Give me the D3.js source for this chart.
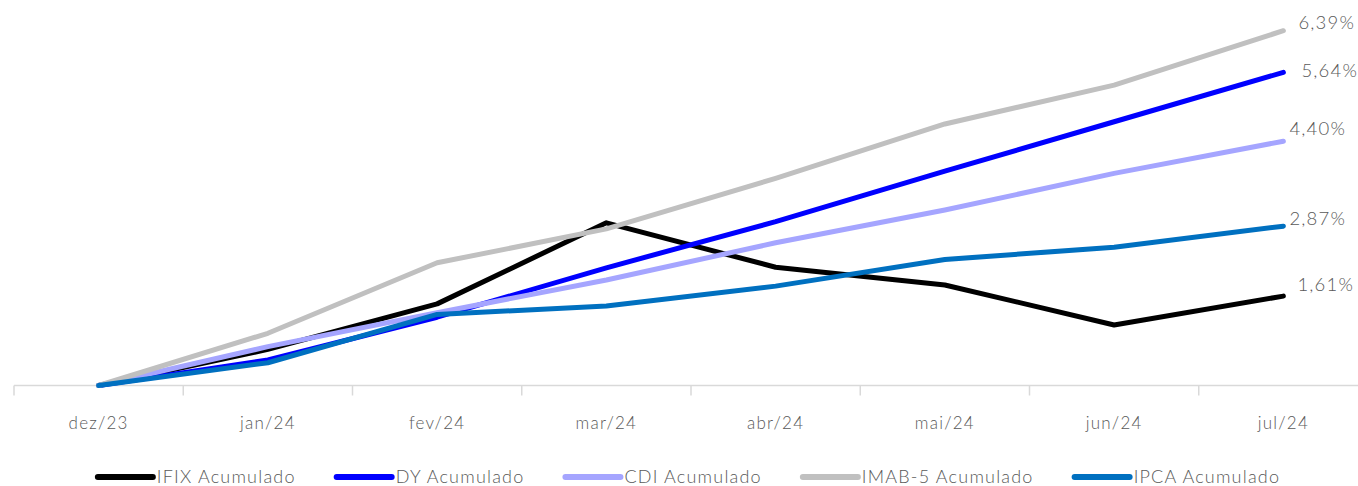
<!DOCTYPE html>
<html>
<head>
<meta charset="utf-8">
<script src="https://cdn.jsdelivr.net/npm/d3@7"></script>
<style>
  html, body { margin: 0; padding: 0; background: #fff; }
  svg { display: block; }
  text { font-family: "Lato", "Open Sans", sans-serif; font-weight: 300; fill: #595959; letter-spacing: 1.2px; }
</style>
</head>
<body>
<svg id="chart" width="1358" height="486"></svg>
<script>
const categories = ["dez/23", "jan/24", "fev/24", "mar/24", "abr/24", "mai/24", "jun/24", "jul/24"];
const seriesNames = ["IFIX Acumulado", "DY Acumulado", "CDI Acumulado", "IMAB-5 Acumulado", "IPCA Acumulado"];
const ifix  = [0, 0.65, 1.47, 2.93, 2.13, 1.81, 1.09, 1.61];
const dy    = [0, 0.46, 1.23, 2.12, 2.95, 3.86, 4.75, 5.64];
const cdi   = [0, 0.70, 1.31, 1.90, 2.57, 3.16, 3.82, 4.40];
const imab5 = [0, 0.94, 2.21, 2.82, 3.73, 4.71, 5.41, 6.39];
const ipca  = [0, 0.41, 1.28, 1.43, 1.79, 2.27, 2.49, 2.87];
const endLabels = ["1,61%", "5,64%", "4,40%", "6,39%", "2,87%"];

const colors = ["#000000", "#0000ff", "#a5a5ff", "#c0c0c0", "#0070c0"];
// label offsets (dx to left edge, dy to vertical center) relative to the last point
const labelOffsets = [[14, -12], [18, -2], [6, -13], [15, -8], [6, -8]];

const seriesValues = [ifix, dy, cdi, imab5, ipca];
const series = seriesNames.map((name, i) => ({ name, values: seriesValues[i], color: colors[i], label: endLabels[i], off: labelOffsets[i] }));

const svg = d3.select("#chart");
const x = d3.scaleBand().domain(categories).range([14, 1368]);
const y = d3.scaleLinear().domain([0, 6.39]).range([385.5, 30.7]);

// x axis
const axisG = svg.append("g").attr("transform", "translate(0,385.5)");
axisG.append("line").attr("x1", 14).attr("x2", 1368).attr("stroke", "#d9d9d9").attr("stroke-width", 1.5);
const bounds = categories.map(c => x(c)).concat([x.range()[1]]);
axisG.selectAll("line.tick").data(bounds).join("line").attr("class", "tick")
  .attr("x1", d => d).attr("x2", d => d).attr("y1", 0).attr("y2", 10)
  .attr("stroke", "#d9d9d9").attr("stroke-width", 1.5);
axisG.selectAll("text.lab").data(categories).join("text").attr("class", "lab")
  .attr("x", d => x(d) + x.bandwidth() / 2).attr("y", 43.5)
  .attr("text-anchor", "middle").style("font-size", "17px").text(d => d);

const line = d3.line().x((d, i) => x(categories[i]) + x.bandwidth() / 2).y(d => y(d));

svg.append("g").selectAll("path").data(series).join("path")
  .attr("d", d => line(d.values))
  .attr("fill", "none").attr("stroke", d => d.color).attr("stroke-width", 5)
  .attr("stroke-linejoin", "round").attr("stroke-linecap", "round");

const lastCat = categories[categories.length - 1];
svg.append("g").selectAll("text").data(series).join("text")
  .attr("x", d => x(lastCat) + x.bandwidth() / 2 + d.off[0])
  .attr("y", d => y(d.values[d.values.length - 1]) + d.off[1])
  .attr("dy", "0.35em").style("font-size", "18.5px").text(d => d.label);

// legend
const legend = svg.append("g");
const items = legend.selectAll("g").data(series).join("g");
items.append("line").attr("x1", 0).attr("x2", 55).attr("y1", 0).attr("y2", 0)
  .attr("stroke", d => d.color).attr("stroke-width", 6).attr("stroke-linecap", "round");
items.append("text").attr("x", 59).attr("y", 0).attr("dy", "0.35em")
  .style("font-size", "18px").text(d => d.name);
let widths = [];
items.each(function() { widths.push(this.querySelector("text").getComputedTextLength() + 59); });
const gap = 41;
const total = d3.sum(widths) + gap * (widths.length - 1);
let cx = 689 - total / 2;
items.attr("transform", (d, i) => {
  const t = `translate(${cx},477)`;
  cx += widths[i] + gap;
  return t;
});
</script>
</body>
</html>
